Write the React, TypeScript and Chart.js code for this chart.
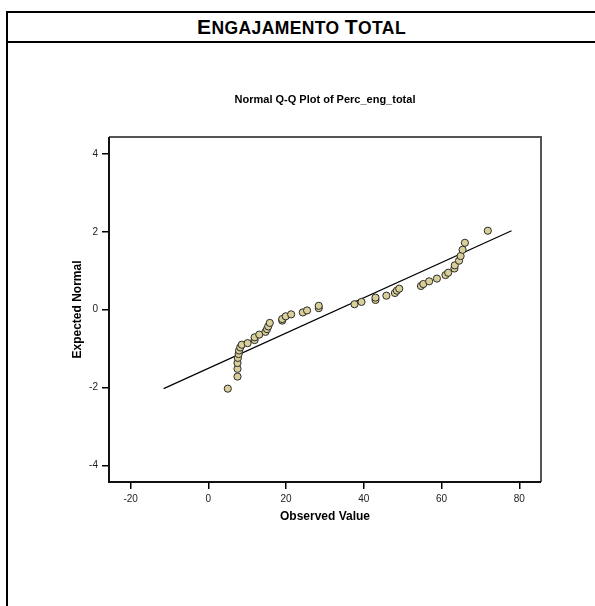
import React, { useEffect, useRef } from 'react';
import { Chart, registerables } from 'chart.js';

Chart.register(...registerables);

const observedValues = [
  5.0, 7.5, 7.5, 7.5, 7.6, 7.8, 7.9, 8.2, 8.6, 10.1,
  11.9, 11.9, 13.1, 14.7, 15.1, 15.4, 15.8, 19.0, 19.0, 19.9,
  21.3, 24.3, 25.4, 28.4, 28.4, 37.6, 39.4, 43.0, 43.0, 45.8,
  48.0, 48.5, 49.1, 54.7, 55.3, 56.8, 58.8, 61.0, 61.7, 63.3,
  63.4, 64.5, 64.9, 65.4, 66.0, 71.9,
];
const expectedNormal = [
  -2.03, -1.72, -1.52, -1.37, -1.24, -1.14, -1.05, -0.97, -0.9, -0.86,
  -0.78, -0.71, -0.64, -0.57, -0.5, -0.43, -0.34, -0.28, -0.24, -0.17,
  -0.12, -0.07, -0.02, 0.04, 0.1, 0.14, 0.2, 0.25, 0.31, 0.36,
  0.43, 0.49, 0.54, 0.61, 0.66, 0.73, 0.8, 0.89, 0.95, 1.06,
  1.14, 1.26, 1.38, 1.54, 1.72, 2.03,
];
const lineX = [-11.5, 78.0];
const lineY = [-2.03, 2.03];
const xTicks = [-20, 0, 20, 40, 60, 80];
const yTicks = [-4, -2, 0, 2, 4];

const FONT = 'Liberation Sans, Arial, Helvetica, sans-serif';

export default function App() {
  const ref = useRef<HTMLCanvasElement>(null);

  useEffect(() => {
    const frame = {
      id: 'frame',
      afterDatasetsDraw(chart: any) {
        const { ctx, chartArea: a } = chart;
        ctx.save();
        ctx.lineWidth = 2;
        ctx.strokeStyle = '#555';
        ctx.beginPath();
        ctx.moveTo(a.left, a.top);
        ctx.lineTo(a.right, a.top);
        ctx.lineTo(a.right, a.bottom);
        ctx.stroke();
        ctx.strokeStyle = '#111';
        ctx.beginPath();
        ctx.moveTo(a.left, a.top);
        ctx.lineTo(a.left, a.bottom);
        ctx.lineTo(a.right, a.bottom);
        ctx.stroke();
        ctx.restore();
      },
    };

    const chart = new Chart(ref.current as HTMLCanvasElement, {
      type: 'scatter',
      data: {
        datasets: [
          {
            type: 'scatter',
            data: observedValues.map((x, i) => ({ x, y: expectedNormal[i] })),
            pointRadius: 3.6,
            backgroundColor: '#d9cf99',
            borderColor: '#2a2a2a',
            borderWidth: 1,
            order: 1,
          } as any,
          {
            type: 'line',
            data: lineX.map((x, i) => ({ x, y: lineY[i] })),
            showLine: true,
            borderColor: '#000',
            borderWidth: 1.2,
            pointRadius: 0,
            fill: false,
            order: 2,
          } as any,
        ],
      },
      options: {
        animation: false,
        responsive: false,
        events: [],
        layout: { padding: { left: 62, right: 54, top: 0, bottom: 0 } },
        plugins: {
          legend: { display: false },
          tooltip: { enabled: false },
          title: {
            display: true,
            fullSize: false,
            text: 'Normal Q-Q Plot of Perc_eng_total',
            color: '#000',
            font: { family: FONT, size: 11, weight: 'bold' },
            padding: { top: 93.4, bottom: 30.4 },
          },
        },
        scales: {
          x: {
            type: 'linear',
            min: -25.56,
            max: 85.58,
            afterBuildTicks: (s: any) => {
              s.ticks = xTicks.map((v) => ({ value: v }));
            },
            afterFit: (s: any) => {
              s.height = 124;
            },
            grid: { drawOnChartArea: false, drawTicks: true, tickLength: 7, color: '#000', lineWidth: 1.5 },
            border: { display: false },
            ticks: { padding: 4, color: '#222', font: { family: FONT, size: 10 }, maxRotation: 0 },
            title: {
              display: true,
              text: 'Observed Value',
              color: '#000',
              font: { family: FONT, size: 12, weight: 'bold' },
              padding: { top: 0, bottom: 81.8 },
            },
          },
          y: {
            type: 'linear',
            min: -4.43,
            max: 4.44,
            afterBuildTicks: (s: any) => {
              s.ticks = yTicks.map((v) => ({ value: v }));
            },
            afterFit: (s: any) => {
              s.width = 47;
            },
            grid: { drawOnChartArea: false, drawTicks: true, tickLength: 7, color: '#000', lineWidth: 1.5 },
            border: { display: false },
            ticks: { padding: 4, color: '#222', font: { family: FONT, size: 10 } },
            title: {
              display: true,
              text: 'Expected Normal',
              color: '#000',
              font: { family: FONT, size: 12, weight: 'bold' },
              padding: { top: 8.5, bottom: 0 },
            },
          },
        },
      } as any,
      plugins: [frame],
    });
    return () => chart.destroy();
  }, []);

  const big: React.CSSProperties = { fontSize: 21 };
  const small: React.CSSProperties = { fontSize: 17.5 };

  return (
    <div style={{ position: 'absolute', left: 0, top: 0, width: 595, height: 606, background: '#fff', overflow: 'hidden' }}>
      <div style={{ position: 'absolute', left: 6, top: 11, width: 589, height: 2, background: '#000' }} />
      <div style={{ position: 'absolute', left: 6, top: 41, width: 589, height: 2, background: '#000' }} />
      <div style={{ position: 'absolute', left: 6, top: 11, width: 2, height: 595, background: '#000' }} />
      <div
        style={{
          position: 'absolute',
          left: 8,
          top: 13,
          width: 587,
          height: 28,
          lineHeight: '28px',
          textAlign: 'center',
          fontFamily: FONT,
          fontWeight: 'bold',
          color: '#000',
          letterSpacing: '0.4px',
        }}
      >
        <span style={big}>E</span>
        <span style={small}>NGAJAMENTO </span>
        <span style={big}>T</span>
        <span style={small}>OTAL</span>
      </div>
      <canvas ref={ref} width={595} height={606} style={{ position: 'absolute', left: 0, top: 0 }} />
    </div>
  );
}
